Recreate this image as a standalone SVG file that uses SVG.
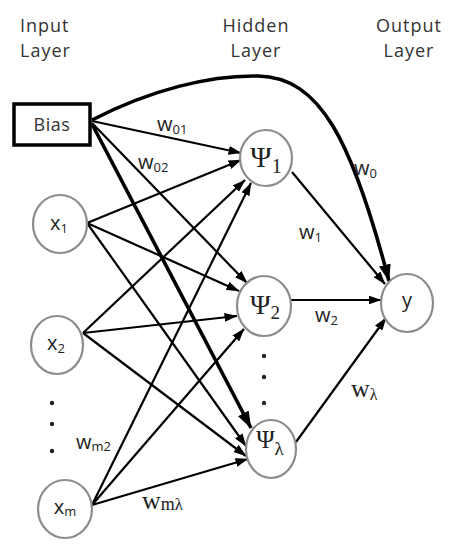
<svg xmlns="http://www.w3.org/2000/svg" width="455" height="550" viewBox="0 0 455 550">
<style>
.bg{fill:#fff}
.lbl{font-family:"Open Sans","Liberation Sans",sans-serif;font-size:18px;fill:#333;letter-spacing:1px}
.wt{font-family:"Open Sans","Liberation Sans",sans-serif;font-size:20px;fill:#222}
.sub{font-size:13px}
.ser{font-family:"Liberation Serif","DejaVu Serif",serif;fill:#222}
.node{fill:#fff;stroke:#8c8c8c;stroke-width:2.2}
.bias{fill:#fff;stroke:#000;stroke-width:3.5}
.e{fill:none;stroke:#000;stroke-width:2.2;marker-end:url(#ah)}
.eb{fill:none;stroke:#000;stroke-width:3.6;marker-end:url(#ahb)}
.dot{fill:#222}
</style>
<defs>
<marker id="ah" viewBox="0 0 13 9" refX="12.5" refY="4.5" markerWidth="13" markerHeight="9" orient="auto" markerUnits="userSpaceOnUse"><path d="M0,0 L13,4.5 L0,9 z" fill="#000"/></marker>
<marker id="ahb" viewBox="0 0 17 12" refX="16.5" refY="6" markerWidth="17" markerHeight="12" orient="auto" markerUnits="userSpaceOnUse"><path d="M0,0 L17,6 L0,12 z" fill="#000"/></marker>
</defs>
<rect class="bg" x="0" y="0" width="455" height="550"/>

<g id="layer-titles">
<text class="lbl" x="20" y="32">Input</text>
<text class="lbl" x="20" y="57">Layer</text>
<text class="lbl" x="256" y="32" text-anchor="middle">Hidden</text>
<text class="lbl" x="256" y="57" text-anchor="middle">Layer</text>
<text class="lbl" x="409" y="32" text-anchor="middle">Output</text>
<text class="lbl" x="409" y="57" text-anchor="middle">Layer</text>
</g>

<g id="connectors">
<path class="eb" d="M92,120 C150,90 210,75 258,76 C320,77 352,140 389,281"/>
<line class="e" x1="92" y1="121" x2="241" y2="153"/>
<line class="e" x1="92" y1="123" x2="247" y2="283"/>
<line class="eb" x1="92" y1="124" x2="251" y2="428"/>
<line class="e" x1="87" y1="223" x2="241" y2="160"/>
<line class="e" x1="87" y1="223" x2="239" y2="291"/>
<line class="e" x1="87" y1="223" x2="246" y2="446"/>
<line class="e" x1="83" y1="333" x2="245" y2="180"/>
<line class="e" x1="83" y1="333" x2="237" y2="316"/>
<line class="e" x1="83" y1="333" x2="246" y2="456"/>
<line class="e" x1="92" y1="505" x2="251" y2="183"/>
<line class="e" x1="92" y1="505" x2="244" y2="329"/>
<line class="e" x1="92" y1="505" x2="248" y2="459"/>
<line class="e" x1="292" y1="172" x2="385" y2="284"/>
<line class="e" x1="291" y1="300" x2="381" y2="300"/>
<line class="e" x1="296" y1="442" x2="386" y2="318"/>
</g>

<g id="bias">
<rect class="bias" x="14" y="104" width="76" height="41"/>
<text class="lbl" x="52" y="131" text-anchor="middle" style="letter-spacing:0.5px">Bias</text>
</g>
<g id="x1">
<ellipse class="node" cx="60" cy="224" rx="27" ry="29"/>
<text class="wt" x="59" y="230" text-anchor="middle">x<tspan class="sub" dy="3">1</tspan></text>
</g>
<g id="x2">
<ellipse class="node" cx="57" cy="345" rx="26" ry="29"/>
<text class="wt" x="56" y="350" text-anchor="middle">x<tspan class="sub" dy="3">2</tspan></text>
</g>
<g id="input-dots">
<circle class="dot" cx="52" cy="403" r="2.2"/>
<circle class="dot" cx="52" cy="424" r="2.2"/>
<circle class="dot" cx="52" cy="451" r="2.2"/>
</g>
<g id="xm">
<ellipse class="node" cx="65" cy="509" rx="27" ry="29"/>
<text class="wt" x="65" y="514" text-anchor="middle">x<tspan class="sub" dy="2">m</tspan></text>
</g>

<g id="psi1">
<ellipse class="node" cx="266" cy="158" rx="26" ry="28"/>
<text class="ser" x="266" y="167" text-anchor="middle" font-size="29">Ψ<tspan font-size="20" dy="6">1</tspan></text>
</g>
<g id="psi2">
<ellipse class="node" cx="264" cy="306" rx="27" ry="30"/>
<text class="ser" x="265" y="314" text-anchor="middle" font-size="28">Ψ<tspan font-size="19" dy="5">2</tspan></text>
</g>
<g id="hidden-dots">
<circle class="dot" cx="264" cy="356" r="2.2"/>
<circle class="dot" cx="264" cy="377" r="2.2"/>
<circle class="dot" cx="264" cy="403" r="2.2"/>
</g>
<g id="psil">
<ellipse class="node" cx="271" cy="449" rx="25" ry="29"/>
<text class="ser" x="270" y="448" text-anchor="middle" font-size="25">Ψ<tspan font-size="19" dy="7">λ</tspan></text>
</g>
<g id="y">
<ellipse class="node" cx="407" cy="303" rx="26" ry="29"/>
<text class="wt" x="407" y="307" text-anchor="middle">y</text>
</g>

<g id="weight-labels">
<text class="wt" x="157" y="131">w<tspan class="sub" dy="3">01</tspan></text>
<text class="wt" x="138" y="169">w<tspan class="sub" dy="3">02</tspan></text>
<text class="wt" x="354" y="175">w<tspan class="sub" dy="3">0</tspan></text>
<text class="wt" x="299" y="239">w<tspan class="sub" dy="3">1</tspan></text>
<text class="wt" x="315" y="322">w<tspan class="sub" dy="3">2</tspan></text>
<text class="ser" x="351" y="397" font-size="26">w<tspan font-size="16" dy="3">λ</tspan></text>
<text class="wt" x="76" y="449">w<tspan class="sub" dy="2">m2</tspan></text>
<text class="ser" x="142" y="509" font-size="26">w<tspan font-size="18" dy="1">m</tspan><tspan font-size="17">λ</tspan></text>
</g>
</svg>
